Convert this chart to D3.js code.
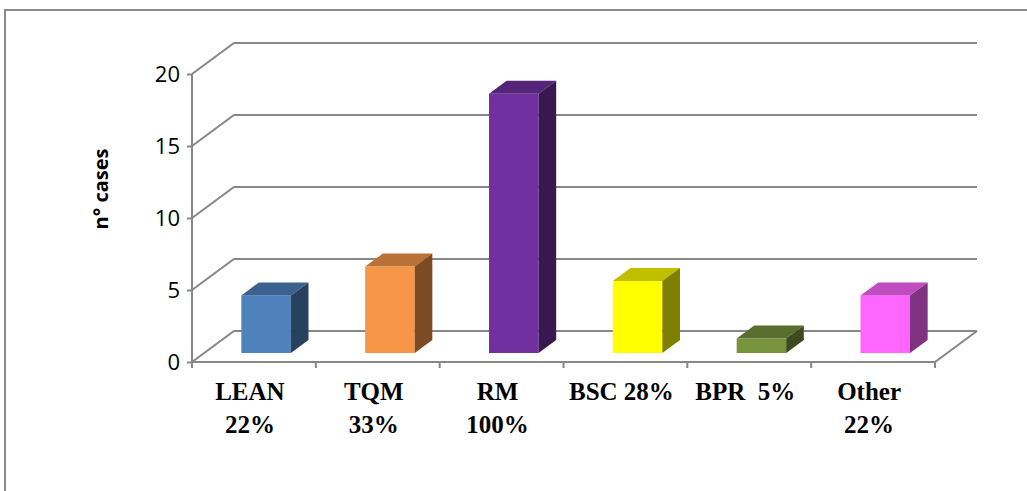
<!DOCTYPE html>
<html>
<head>
<meta charset="utf-8">
<script src="https://cdn.jsdelivr.net/npm/d3@7"></script>
<style>
  html, body { margin: 0; padding: 0; background: #fff; }
  svg { display: block; }
</style>
</head>
<body>
<svg id="chart" width="1027" height="491"></svg>
<script>
// Management approaches, number of cases and share of cases
const categories = ["LEAN", "TQM", "RM", "BSC", "BPR", "Other"];
const labelLines = [["LEAN", "22%"], ["TQM", "33%"], ["RM", "100%"], ["BSC 28%"], ["BPR  5%"], ["Other", "22%"]];
const cases = [4, 6, 18, 5, 1, 4];
const frontColors = ["#4F81BD", "#F79646", "#7030A0", "#FFFF00", "#77933C", "#FF66FF"];
const yTicks = [0, 5, 10, 15, 20];

const svg = d3.select("#chart");
const grid = "#878787";

// 3D box geometry: floor front edge, depth offset of the back wall
const x0 = 192, x1 = 935, yBase = 362, yTop = 74;
const DX = 42, DY = -31;
const f0 = 0.29, f1 = 0.71; // bar depth extent as fraction of floor depth

const y = d3.scaleLinear().domain([0, 20]).range([yBase, yTop]);
const x = d3.scaleBand().domain(categories).range([x0, x1]).paddingInner(0.6).paddingOuter(0.3);

// outer frame
svg.append("path")
  .attr("d", "M5,495 V10 H1035")
  .attr("fill", "none").attr("stroke", "#8a8a8a").attr("stroke-width", 2);

// back wall gridlines and left wall diagonals
const g = svg.append("g").attr("fill", "none").attr("stroke", grid).attr("stroke-width", 2);
yTicks.forEach(t => {
  const yy = y(t);
  g.append("path").attr("d", `M${x0},${yy} L${x0 + DX},${yy + DY} H${x1 + DX}`);
});
// floor front and right edge
g.append("path").attr("d", `M${x0},${yBase} H${x1} L${x1 + DX},${yBase + DY}`);
// vertical value axis
g.append("line").attr("x1", x0).attr("x2", x0).attr("y1", yTop).attr("y2", yBase);

// value axis ticks and labels
const yAxis = d3.axisLeft(y).tickValues(yTicks).tickSize(5).tickPadding(7);
const ya = svg.append("g").attr("transform", `translate(${x0},0)`).call(yAxis);
ya.select(".domain").remove();
ya.selectAll(".tick line").attr("stroke", grid).attr("stroke-width", 2);
ya.selectAll(".tick text")
  .attr("font-family", "'Open Sans', sans-serif").attr("font-size", 22).attr("fill", "#000");

// category ticks along the floor front edge
const catTicks = d3.range(categories.length + 1).map(i => x0 + i * x.step());
svg.append("g").selectAll("line").data(catTicks).join("line")
  .attr("x1", d => d).attr("x2", d => d).attr("y1", yBase).attr("y2", yBase + 6)
  .attr("stroke", grid).attr("stroke-width", 2);

// bars as 3D boxes
const shade = (c, k) => { const r = d3.rgb(c); return d3.rgb(r.r * k, r.g * k, r.b * k).formatHex(); };
const bars = svg.append("g");
categories.forEach((c, i) => {
  const v = cases[i];
  const lx = x(c) + DX * f0, rx = lx + x.bandwidth();
  const by = y(0) + DY * f0, ty = y(v) + DY * f0;
  const ddx = DX * (f1 - f0), ddy = DY * (f1 - f0);
  const col = frontColors[i];
  bars.append("rect").attr("x", lx).attr("y", ty).attr("width", rx - lx).attr("height", by - ty).attr("fill", col);
  bars.append("path").attr("fill", shade(col, 0.75))
    .attr("d", `M${lx},${ty} L${rx},${ty} L${rx + ddx},${ty + ddy} L${lx + ddx},${ty + ddy} Z`);
  bars.append("path").attr("fill", shade(col, 0.5))
    .attr("d", `M${rx},${ty} L${rx + ddx},${ty + ddy} L${rx + ddx},${by + ddy} L${rx},${by} Z`);
});

// category labels
const lab = svg.append("g")
  .attr("font-family", "'Liberation Serif', 'Times New Roman', serif")
  .attr("font-weight", "bold").attr("font-size", 25).attr("text-anchor", "middle").attr("fill", "#000");
categories.forEach((c, i) => {
  const cx = x(c) + x.bandwidth() / 2 - 4;
  labelLines[i].forEach((line, j) => {
    lab.append("text").attr("x", cx).attr("y", 400 + j * 33).attr("xml:space", "preserve").text(line);
  });
});

// value axis title
svg.append("text")
  .attr("transform", "translate(108,189) rotate(-90)")
  .attr("text-anchor", "middle")
  .attr("font-family", "'Open Sans', sans-serif").attr("font-weight", "bold").attr("font-size", 20)
  .text("n° cases");
</script>
</body>
</html>
